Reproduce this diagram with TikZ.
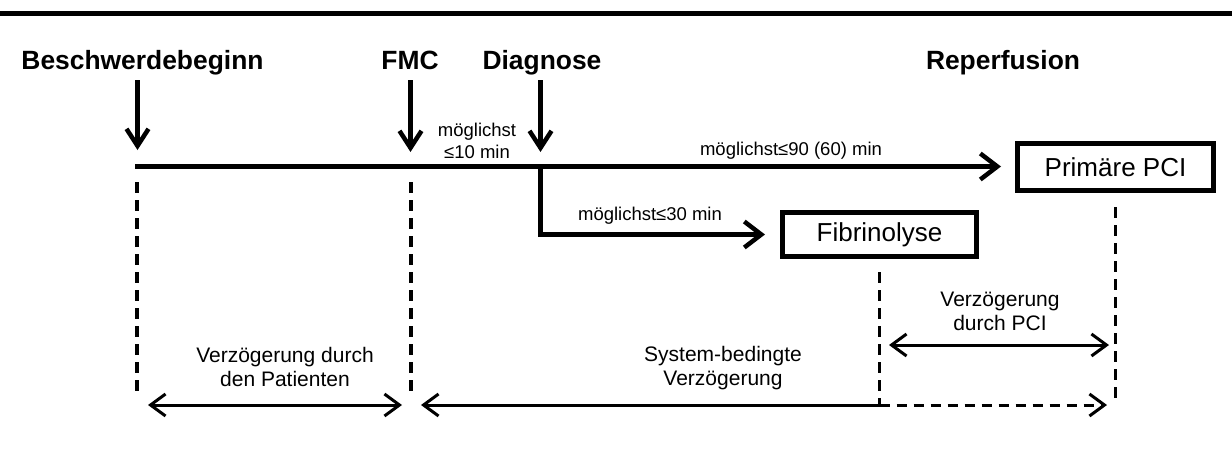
\documentclass[tikz,border=0pt]{standalone}
\usepackage{fontspec}
\setmainfont{Liberation Sans}
\usetikzlibrary{arrows.meta}
\tikzset{
  x=1pt, y=-1pt,
  head/.style={text=black, font=\bfseries\fontsize{26.4}{29}\selectfont, inner sep=0pt, anchor=base},
  small/.style={font=\fontsize{18.5}{22.5}\selectfont, inner sep=0pt, align=center},
  lbl/.style={font=\fontsize{21}{24}\selectfont, inner sep=0pt, align=center},
  boxn/.style={draw, line width=5pt, font=\fontsize{26}{30}\selectfont, inner sep=0pt},
  mtip/.tip={Straight Barb[length=17pt, width=26pt, line width=4.5pt]},
  dtip/.tip={Straight Barb[length=17pt, width=22pt, line width=4.5pt]},
  btip/.tip={Straight Barb[length=15pt, width=22pt, line width=3pt]},
  mainarrow/.style={line width=4.5pt, -mtip},
  downarrow/.style={line width=4.5pt, -dtip},
  dim/.style={line width=3pt, btip-btip},
  dimone/.style={line width=3pt, -btip},
  dimdash/.style={line width=3pt, dash pattern=on 10pt off 7pt, -btip},
  vdash/.style={line width=3.2pt, dash pattern=on 11pt off 7pt}
}
\begin{document}
\begin{tikzpicture}
\useasboundingbox (0,0) rectangle (1232,451);
% top rule
\fill (0,11) rectangle (1232,15.5);

% headings
\node[head] (t1) at (142.5,69) {Beschwerdebeginn};
\node[head] (t2) at (410,69) {FMC};
\node[head] (t3) at (542,69) {Diagnose};
\node[head] (t4) at (1003,69) {Reperfusion};

% down arrows
\coordinate (a1s) at (137.5,80); \coordinate (a1e) at (137.5,150);
\coordinate (a2s) at (410.5,80); \coordinate (a2e) at (410.5,152);
\coordinate (a3s) at (540.5,80); \coordinate (a3e) at (540.5,152);
\draw[downarrow] (a1s) -- (a1e);
\draw[downarrow] (a2s) -- (a2e);
\draw[downarrow] (a3s) -- (a3e);

% boxes
\node[boxn, minimum width=196pt, minimum height=47pt] (pci) at (1115.5,167) {Primäre PCI};
\node[boxn, minimum width=194pt, minimum height=44pt] (fib) at (879.5,234.5) {Fibrinolyse};

% main line
\coordinate (p0) at (135,166.5);
\coordinate (d0) at (540.5,166.5);
\draw[mainarrow, shorten >=14pt] (p0) -- (pci.west |- p0);
\draw[mainarrow, shorten >=15pt, line join=miter] (d0) |- (fib.west);

% small labels
\node[small] (l10) at (477,141) {möglichst\\≤10 min};
\node[small] (l90) at (791,151) {möglichst≤90 (60) min};
\node[small] (l30) at (650,216) {möglichst≤30 min};

% dashed verticals
\coordinate (v1t) at (137,182); \coordinate (v1b) at (137,398);
\coordinate (v2t) at (411,182); \coordinate (v2b) at (411,398);
\coordinate (f0) at (879.5,272);
\coordinate (f1) at (879.5,405);
\coordinate (c0) at (1115.5,207);
\coordinate (c1) at (1115.5,405);
\draw[vdash] (v1t) -- (v1b);
\draw[vdash] (v2t) -- (v2b);
\draw[vdash] (f0) -- (f1);
\draw[vdash] (c0) -- (c1);

% bottom arrows
\coordinate (b1l) at (148,405); \coordinate (b1r) at (402,405);
\coordinate (b2l) at (421,405);
\coordinate (b3r) at (1107,405);
\coordinate (b4l) at (889,345); \coordinate (b4r) at (1109,345);
\draw[dim] (b1l) -- (b1r);
\draw[dimone] (f1) -- (b2l);
\draw[dimdash] (f1) -- (b3r);
\draw[dim] (b4l) -- (b4r);

% bottom labels
\node[lbl] (lp) at (285,367) {Verzögerung durch\\den Patienten};
\node[lbl] (ls) at (723,368) {System-bedingte\\Verzögerung};
\node[lbl] (lc) at (1000,311) {Verzögerung\\durch PCI};
\end{tikzpicture}
\end{document}
